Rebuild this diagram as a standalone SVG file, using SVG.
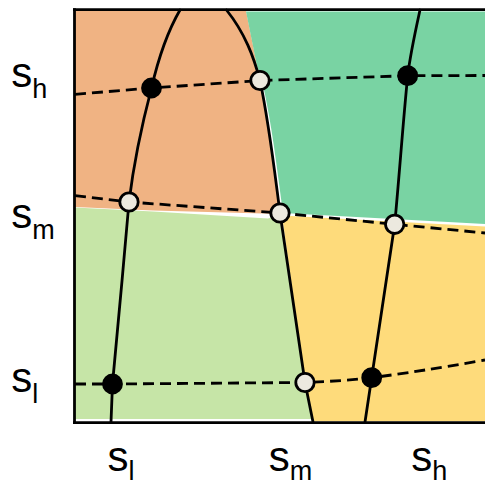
<svg xmlns="http://www.w3.org/2000/svg" width="485" height="487" viewBox="0 0 485 487">
<style>
.curve{fill:none;stroke:#000;stroke-width:2.8;stroke-linecap:round;stroke-linejoin:round}
.dash{fill:none;stroke:#000;stroke-width:2.8;stroke-dasharray:11,6}
.open{fill:#ECE9DF;stroke:#000;stroke-width:2.8}
.solid{fill:#000;stroke:#000;stroke-width:2.8}
.frame{fill:none;stroke:#000;stroke-width:2.8}
.lbl{font-family:"Liberation Sans",Arial,sans-serif;font-size:42px;fill:#000}
.sub{font-size:27px}
</style>
<rect x="0" y="0" width="485" height="487" fill="#fff"/>
<g id="regions">
<path id="region-orange" d="M75,11 L246,11 L259,75 C269.5,124 274.5,168.7 281,214 L153,210.5 L75,207 Z" fill="#F0B383"/>
<path id="region-green" d="M246,11.5 L485,11.5 L485,224 L283,213 C277,168.7 272,124.3 262,80.5 L257,66 Z" fill="#79D3A3"/>
<path id="region-lightgreen" d="M75,207.5 L153,211.5 L268,218.5 L280,215 L304.5,383 L311.5,419 L75,419 Z" fill="#C6E5A7"/>
<path id="region-yellow" d="M282,215.5 L485,226.5 L485,421.3 L313.5,421.3 L305,383 Z" fill="#FEDB7B"/>
</g>
<g id="connectors">
<path class="curve" d="M180,10 C164.9,36 157.5,62 151.5,88 C141.5,126 133.6,164 129,202 C123.5,262.7 118.5,323.3 112.5,384 L111,422"/>
<path class="curve" d="M226.5,10 C245.1,33.3 253.7,56.7 260,80.5 C269.25,124.3 274.2,168.7 280,213 L305,382.5 L313,422"/>
<path class="curve" d="M420,10 C415.2,31.9 410.3,53.8 407.7,75.7 C402.8,125.1 399.4,174.6 394.7,224.3 L365,422"/>
<path class="dash" d="M75,94.3 L151.5,88 L260,80.5 L407.7,75.7 L485,75.5"/>
<path class="dash" d="M75,195.7 L129,202 L280,213 L394.7,224.3 L485,233"/>
<path class="dash" d="M75,384 L112.5,384 L305,382.5 C330,381.5 352,380 371.7,377.7 C400,374 440,368 485,360"/>
</g>
<g id="frame">
<line class="frame" x1="74.5" y1="8.3" x2="74.5" y2="424"/>
<line class="frame" x1="73" y1="9.7" x2="485" y2="9.7"/>
<line class="frame" x1="73" y1="422.7" x2="485" y2="422.7"/>
</g>
<g id="nodes">
<g id="n-h-l"><circle class="solid" cx="151.5" cy="88" r="9"/></g>
<g id="n-h-m"><circle class="open" cx="260" cy="80.5" r="9.2"/></g>
<g id="n-h-h"><circle class="solid" cx="407.7" cy="75.7" r="9"/></g>
<g id="n-m-l"><circle class="open" cx="129" cy="202" r="9.2"/></g>
<g id="n-m-m"><circle class="open" cx="280" cy="213" r="9.2"/></g>
<g id="n-m-h"><circle class="open" cx="394.7" cy="224.3" r="9.2"/></g>
<g id="n-l-l"><circle class="solid" cx="112.5" cy="384" r="9"/></g>
<g id="n-l-m"><circle class="open" cx="305" cy="382.5" r="9.2"/></g>
<g id="n-l-h"><circle class="solid" cx="371.7" cy="377.7" r="9"/></g>
</g>
<g id="labels">
<text class="lbl" x="11.2" y="87">s<tspan class="sub" dy="11">h</tspan></text>
<text class="lbl" x="11.2" y="228.3">s<tspan class="sub" dy="11">m</tspan></text>
<text class="lbl" x="11.2" y="391.5">s<tspan class="sub" dy="11">l</tspan></text>
<text class="lbl" x="107.5" y="471">s<tspan class="sub" dy="9">l</tspan></text>
<text class="lbl" x="268.8" y="471">s<tspan class="sub" dy="9">m</tspan></text>
<text class="lbl" x="411.2" y="471">s<tspan class="sub" dy="9">h</tspan></text>
</g>
</svg>
